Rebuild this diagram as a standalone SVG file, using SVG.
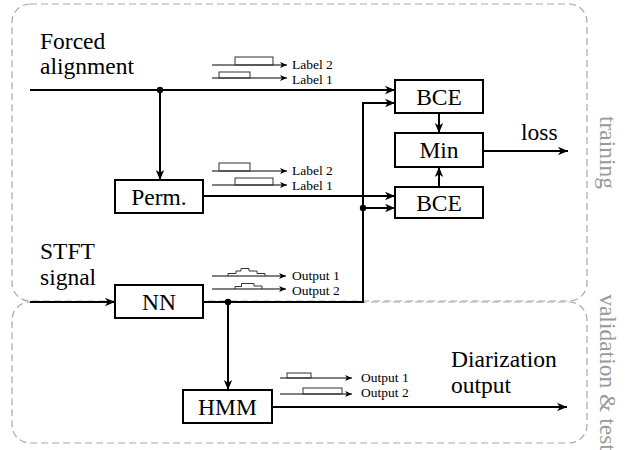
<svg xmlns="http://www.w3.org/2000/svg" width="625" height="450" viewBox="0 0 625 450" font-family="'Liberation Serif', 'Times New Roman', serif">
<defs>
<style>
text{font-family:'Liberation Serif','Times New Roman',serif;fill:#000}
.big{font-size:23.5px}
.sm{font-size:13.5px}
.ctr{text-anchor:middle}
.box{fill:#fff;stroke:#000;stroke-width:2}
.wire{fill:none;stroke:#000;stroke-width:2}
.sig{fill:none;stroke:#000;stroke-width:1}
.pulse{fill:none;stroke:#333;stroke-width:1}
.region{fill:none;stroke:#a8a8a8;stroke-width:1.2;stroke-dasharray:7 4}
.rot{font-size:23.5px;fill:#999;text-anchor:middle}
</style>
<marker id="ah" viewBox="0 0 10 10" refX="10" refY="5" markerWidth="10" markerHeight="10" markerUnits="userSpaceOnUse" orient="auto">
<path d="M0,0.8 L10,5 L0,9.2 L2.8,5 z" fill="#000"/>
</marker>
<marker id="ahs" viewBox="0 0 10 10" refX="10" refY="5" markerWidth="7" markerHeight="7" markerUnits="userSpaceOnUse" orient="auto">
<path d="M0,0.8 L10,5 L0,9.2 L2.8,5 z" fill="#000"/>
</marker>
</defs>

<g id="regions">
<rect class="region" x="12" y="4" width="575" height="297" rx="18"/>
<rect class="region" x="12" y="302" width="575" height="141" rx="18"/>
<text class="rot" transform="translate(600,152.5) rotate(90)">training</text>
<text class="rot" transform="translate(600,372.5) rotate(90)">validation &amp; test</text>
</g>

<g id="inputs">
<text class="big" x="40" y="49">Forced</text>
<text class="big" x="40" y="74">alignment</text>
<text class="big" x="40" y="259">STFT</text>
<text class="big" x="40" y="285">signal</text>
<text class="big" x="521" y="140">loss</text>
<text class="big" x="451" y="367">Diarization</text>
<text class="big" x="451" y="393">output</text>
</g>

<g id="connectors">
<path class="wire" d="M30,90 H395" marker-end="url(#ah)"/>
<path class="wire" d="M160,90 V180" marker-end="url(#ah)"/>
<path class="wire" d="M203,196 H395" marker-end="url(#ah)"/>
<path class="wire" d="M30,302 H115" marker-end="url(#ah)"/>
<path class="wire" d="M203,302 H363 V103 H395" marker-end="url(#ah)"/>
<path class="wire" d="M363,208 H395" marker-end="url(#ah)"/>
<path class="wire" d="M228,302 V390" marker-end="url(#ah)"/>
<path class="wire" d="M439,113 V133" marker-end="url(#ah)"/>
<path class="wire" d="M439,187 V167" marker-end="url(#ah)"/>
<path class="wire" d="M483,151 H568" marker-end="url(#ah)"/>
<path class="wire" d="M272,407 H567" marker-end="url(#ah)"/>
<circle cx="160" cy="90" r="3.2"/>
<circle cx="228" cy="302" r="3.2"/>
<circle cx="363" cy="208" r="3.2"/>
</g>

<g id="bce1"><rect class="box" x="395" y="80" width="88" height="33"/><text class="big ctr" x="439" y="105">BCE</text></g>
<g id="min"><rect class="box" x="395" y="133" width="88" height="34"/><text class="big ctr" x="439" y="158">Min</text></g>
<g id="bce2"><rect class="box" x="395" y="187" width="88" height="31"/><text class="big ctr" x="439" y="211">BCE</text></g>
<g id="perm"><rect class="box" x="115" y="180" width="88" height="33"/><text class="big ctr" x="159" y="205">Perm.</text></g>
<g id="nn"><rect class="box" x="115" y="285" width="88" height="33"/><text class="big ctr" x="159" y="310">NN</text></g>
<g id="hmm"><rect class="box" x="183" y="390" width="89" height="33"/><text class="big ctr" x="227.5" y="415">HMM</text></g>

<g id="labels-top">
<path class="sig" d="M212,65 H287" marker-end="url(#ahs)"/>
<rect class="pulse" x="235" y="57" width="38" height="8"/>
<path class="sig" d="M212,78 H287" marker-end="url(#ahs)"/>
<rect class="pulse" x="219" y="72" width="31" height="6"/>
<text class="sm" x="292" y="68.5">Label 2</text>
<text class="sm" x="292" y="83.5">Label 1</text>
</g>

<g id="labels-perm">
<path class="sig" d="M212,171 H287" marker-end="url(#ahs)"/>
<rect class="pulse" x="219" y="163" width="31" height="8"/>
<path class="sig" d="M212,185 H287" marker-end="url(#ahs)"/>
<rect class="pulse" x="235" y="178" width="38" height="7"/>
<text class="sm" x="292" y="174.5">Label 2</text>
<text class="sm" x="292" y="189.5">Label 1</text>
</g>

<g id="outputs-nn">
<path class="sig" d="M212,276 H286" marker-end="url(#ahs)"/>
<polyline class="pulse" points="228,276 228,273.5 236,273.5 236,271 241,271 241,268.5 249,268.5 249,271 257,271 257,273.5 265,273.5 265,276"/>
<path class="sig" d="M212,289 H286" marker-end="url(#ahs)"/>
<polyline class="pulse" points="235,289 235,286.5 241.5,286.5 241.5,283.5 254,283.5 254,286 262,286 262,289"/>
<text class="sm" x="292" y="279.5">Output 1</text>
<text class="sm" x="292" y="294.5">Output 2</text>
</g>

<g id="outputs-hmm">
<path class="sig" d="M280,378 H352" marker-end="url(#ahs)"/>
<rect class="pulse" x="287" y="373" width="24" height="5"/>
<path class="sig" d="M280,394 H352" marker-end="url(#ahs)"/>
<rect class="pulse" x="303" y="388" width="39" height="6"/>
<text class="sm" x="361" y="381.5">Output 1</text>
<text class="sm" x="361" y="396.5">Output 2</text>
</g>
</svg>
